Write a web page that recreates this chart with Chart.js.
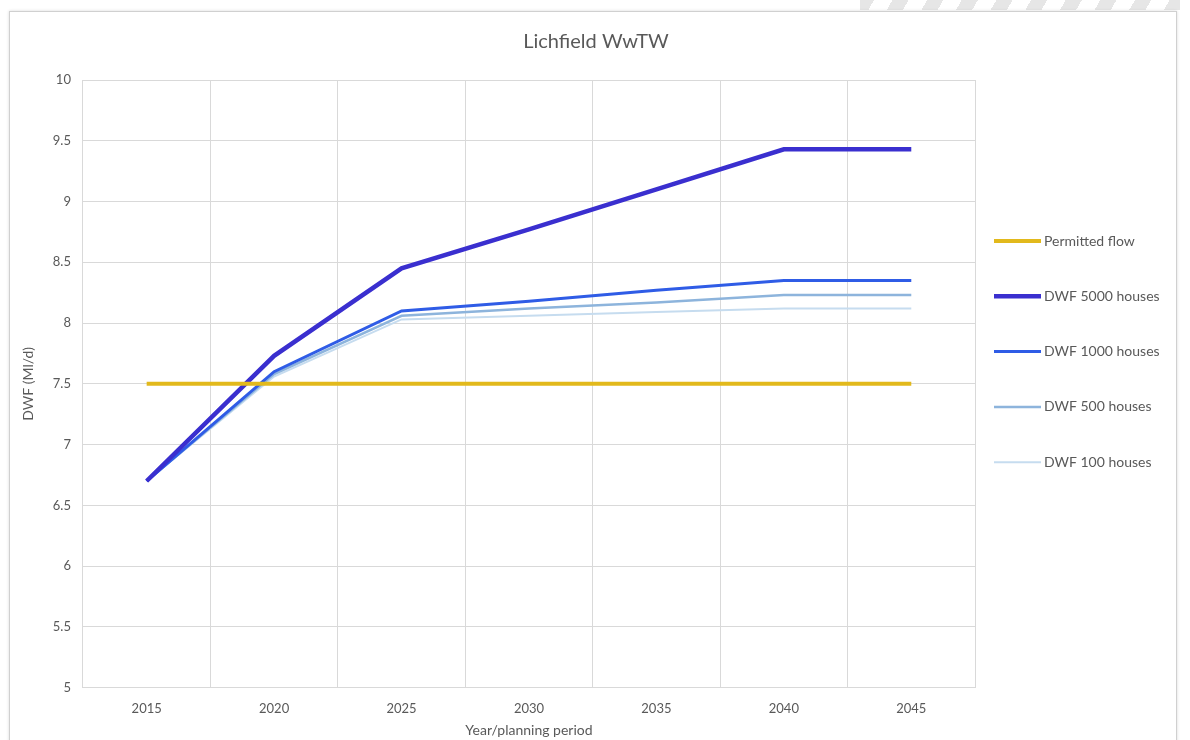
<!DOCTYPE html>
<html>
<head>
<meta charset="utf-8">
<script src="https://cdn.jsdelivr.net/npm/chart.js@4.4.0/dist/chart.umd.min.js"></script>
<style>
  html, body { margin:0; padding:0; background:#fff; overflow:hidden; }
  body { width:1190px; height:740px; position:relative; }
  .stripes { position:absolute; left:860px; top:0; width:320px; height:10px;
    background:repeating-linear-gradient(-60deg, #e6e6e6 0 14px, #fff 14px 30px); }
  .frame { position:absolute; left:9px; top:11px; width:1166px; height:745px;
    border:1px solid #d0d0d0; box-shadow:0 0 3px rgba(0,0,0,0.15); background:#fff; }
  #wrap { position:absolute; left:0; top:0; width:1166px; height:745px; }
</style>
</head>
<body>
<div class="stripes"></div>
<div class="frame"><div id="wrap"><canvas id="chart"></canvas></div></div>
<script>
// chart data
const years = ['2015', '2020', '2025', '2030', '2035', '2040', '2045'];
const permittedFlow = [7.5, 7.5, 7.5, 7.5, 7.5, 7.5, 7.5];
const dwf5000 = [6.7, 7.73, 8.45, 8.77, 9.1, 9.43, 9.43];
const dwf1000 = [6.7, 7.6, 8.1, 8.18, 8.27, 8.35, 8.35];
const dwf500 = [6.7, 7.58, 8.06, 8.12, 8.17, 8.23, 8.23];
const dwf100 = [6.7, 7.56, 8.03, 8.06, 8.09, 8.12, 8.12];

const FONT = 'Lato, "Open Sans", sans-serif';
const GREY = '#595959';

function line(label, data, color, width) {
  return { label, data, borderColor: color, backgroundColor: color, borderWidth: width,
    pointRadius: 0, tension: 0, fill: false };
}

// excel-like legend: long line sample, wide row spacing, close to the plot
const sideLegend = {
  id: 'sideLegend',
  afterDraw(chart) {
    const ctx = chart.ctx;
    const x0 = chart.chartArea.right + 19;
    ctx.save();
    ctx.font = '14px ' + FONT;
    ctx.textBaseline = 'middle';
    ctx.fillStyle = GREY;
    chart.data.datasets.forEach((ds, i) => {
      const y = 229 + i * 55.3;
      ctx.strokeStyle = ds.borderColor;
      ctx.lineWidth = ds.borderWidth;
      ctx.beginPath(); ctx.moveTo(x0, y); ctx.lineTo(x0 + 47, y); ctx.stroke();
      ctx.fillText(ds.label, x0 + 50, y);
    });
    ctx.restore();
  }
};

new Chart(document.getElementById('chart'), {
  type: 'line',
  data: {
    labels: years,
    datasets: [
      line('Permitted flow', permittedFlow, '#e2b91c', 4),
      line('DWF 5000 houses', dwf5000, '#3a2fcf', 4.5),
      line('DWF 1000 houses', dwf1000, '#2f5ce6', 3),
      line('DWF 500 houses', dwf500, '#8db4dc', 2.5),
      line('DWF 100 houses', dwf100, '#c6dcef', 2)
    ]
  },
  plugins: [sideLegend],
  options: {
    responsive: true,
    maintainAspectRatio: false,
    animation: false,
    layout: { padding: { left: 6, right: 0, top: 14, bottom: 14 } },
    plugins: {
      title: { display: true, text: 'Lichfield WwTW', color: GREY,
        font: { family: FONT, size: 20, weight: 'normal' }, padding: { top: 4, bottom: 26 } },
      legend: { display: false },
      tooltip: { enabled: false }
    },
    scales: {
      x: {
        offset: true,
        grid: { offset: true, color: '#d9d9d9', lineWidth: 1, drawTicks: false },
        border: { display: false },
        ticks: { color: GREY, font: { family: FONT, size: 13 }, padding: 13 },
        title: { display: true, text: 'Year/planning period', color: GREY,
          font: { family: FONT, size: 14 }, padding: { top: -7 } }
      },
      y: {
        min: 5, max: 10,
        ticks: { stepSize: 0.5, color: GREY, font: { family: FONT, size: 13 }, padding: 12,
          callback: v => String(v) },
        grid: { color: '#d9d9d9', lineWidth: 1, drawTicks: false },
        border: { display: false },
        title: { display: true, text: 'DWF (Ml/d)', color: GREY,
          font: { family: FONT, size: 14 }, padding: { bottom: 4 } }
      },
      // empty right-hand axis that only reserves room for the legend
      legendSpace: {
        position: 'right', axis: 'y', display: true,
        grid: { display: false }, border: { display: false }, ticks: { display: false },
        afterFit: s => { s.width = 201; }
      }
    }
  }
});
</script>
</body>
</html>
